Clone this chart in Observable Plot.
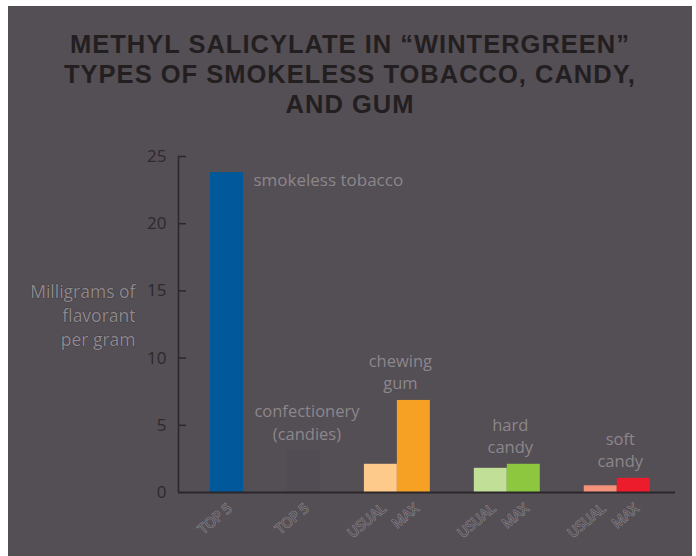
<!DOCTYPE html>
<html><head><meta charset="utf-8">
<script src="https://cdn.jsdelivr.net/npm/d3@7"></script>
<script src="https://cdn.jsdelivr.net/npm/@observablehq/plot@0.6"></script>
<style>
html,body{margin:0;padding:0;background:#fff;}
#wrap{position:absolute;left:8px;top:6px;width:684px;height:550px;background:#544e55;overflow:hidden;}
#title{position:absolute;left:0;top:23px;width:684px;text-align:center;font-family:"Liberation Sans",Arial,sans-serif;font-weight:700;font-size:25.5px;line-height:30px;color:#231f20;letter-spacing:1px;}
#chart{position:absolute;left:0;top:130px;}
</style></head>
<body>
<div id="wrap">
<div id="title">METHYL SALICYLATE IN “WINTERGREEN”<br>TYPES OF SMOKELESS TOBACCO, CANDY,<br>AND GUM</div>
<div id="chart"></div>
</div>
<script>
// ---- data ----
const groups = ["smokeless tobacco", "confectionery (candies)", "chewing gum", "hard candy", "soft candy"];
const groupLabels = ["smokeless tobacco", "confectionery\n(candies)", "chewing\ngum", "hard\ncandy", "soft\ncandy"];
const barGroups = ["smokeless tobacco", "confectionery (candies)", "chewing gum", "chewing gum", "hard candy", "hard candy", "soft candy", "soft candy"];
const barKinds = ["TOP 5", "TOP 5", "USUAL", "MAX", "USUAL", "MAX", "USUAL", "MAX"];
const barValues = [23.8, 3.1, 2.1, 6.85, 1.8, 2.1, 0.5, 1.05];
const yTicks = [0, 5, 10, 15, 20, 25];
const yLabel = "Milligrams of\nflavorant\nper gram";

// ---- styles ----
const palette = ["#01589b", "#514b53", "#fdca8b", "#f6a024", "#c2df98", "#8dc63f", "#f4927b", "#ec1c2d"];
const axisColor = "#2b272a";
const textGray = "#8c878b";

// ---- layout (bar width = 1 unit, gap between groups) ----
const GAP = 4 / 3;
let cursor = 0;
const rows = barValues.map((v, i) => {
  if (i > 0 && barGroups[i] !== barGroups[i - 1]) cursor += GAP;
  const r = {group: barGroups[i], kind: barKinds[i], value: v, x1: cursor, x2: cursor + 1, color: palette[i]};
  cursor += 1;
  return r;
});
const groupRows = groups.map((g, i) => {
  const rs = rows.filter(r => r.group === g);
  return {group: g, label: groupLabels[i], x1: d3.min(rs, r => r.x1), x2: d3.max(rs, r => r.x2), max: d3.max(rs, r => r.value)};
});
const X0 = -0.97, X1 = 14.1;

const chart = Plot.plot({
  width: 684,
  height: 420,
  marginLeft: 170,
  marginRight: 17,
  marginTop: 20,
  marginBottom: 64,
  style: {background: "transparent", fontFamily: "'Open Sans', sans-serif", overflow: "visible"},
  x: {type: "linear", domain: [X0, X1], axis: null},
  y: {domain: [0, 25], axis: null},
  marks: [
    Plot.rectY(rows, {x1: "x1", x2: "x2", y: "value", fill: "color", inset: 0}),
    Plot.ruleX([X0], {y1: 0, y2: 25, stroke: axisColor, strokeWidth: 1.5}),
    Plot.ruleY(yTicks.filter(d => d > 0), {x1: X0, x2: X0 + 8 / 33, stroke: axisColor, strokeWidth: 1.5}),
    Plot.ruleY([0], {x1: X0, x2: X1, stroke: axisColor, strokeWidth: 2}),
    Plot.text(yTicks, {x: X0, y: d => d, text: d => String(d), textAnchor: "end", dx: -12, fontSize: 17, fill: "#2d292d"}),
    Plot.text([yLabel], {frameAnchor: "left", textAnchor: "end", dx: -43, dy: -10, lineHeight: 1.36, fontSize: 17.5, fill: "#8e898d", stroke: "#2e2a2e", strokeWidth: 0.6}),
    Plot.text(groupRows.slice(1), {x: d => (d.x1 + d.x2) / 2, y: "max", text: "label", lineAnchor: "bottom", dx: 3, dy: -11, lineHeight: 1.36, fontSize: 16.5, fill: textGray}),
    Plot.text(groupRows.slice(0, 1), {x: "x2", y: "max", text: "label", textAnchor: "start", lineAnchor: "top", dx: 10, dy: 1, fontSize: 17, fill: textGray}),
    Plot.text(rows, {x: d => (d.x1 + d.x2) / 2, y: 0, text: "kind", rotate: -40, textAnchor: "end", dx: 3, dy: 14, fontSize: 14, fill: "#555057", stroke: "#8d888d", strokeWidth: 1.1})
  ]
});
document.getElementById("chart").appendChild(chart);
</script>
</body></html>
